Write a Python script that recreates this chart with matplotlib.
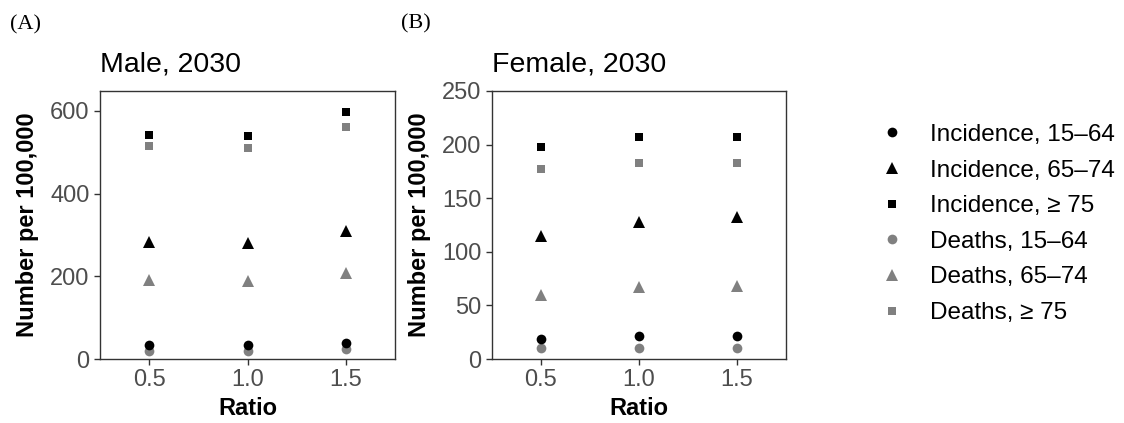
import matplotlib.pyplot as plt
from matplotlib.lines import Line2D

plt.rcParams['font.family'] = ['Liberation Sans', 'DejaVu Sans']

# ratio values on the x axis
ratio = [0.5, 1.0, 1.5]

# Male, 2030 (number per 100,000)
male_inc_1564 = [35, 34, 39]
male_inc_6574 = [282, 281, 310]
male_inc_75 = [542, 538, 596]
male_dth_1564 = [20, 20, 24]
male_dth_6574 = [191, 189, 209]
male_dth_75 = [514, 510, 562]

# Female, 2030 (number per 100,000)
fem_inc_1564 = [19, 21, 21]
fem_inc_6574 = [115, 128, 132]
fem_inc_75 = [198, 207, 207]
fem_dth_1564 = [10, 10, 10]
fem_dth_6574 = [60, 67, 68]
fem_dth_75 = [177, 183, 183]

labels = ['Incidence, 15\u201364', 'Incidence, 65\u201374', 'Incidence, \u2265 75',
          'Deaths, 15\u201364', 'Deaths, 65\u201374', 'Deaths, \u2265 75']
colors = ['black', 'black', 'black', '#808080', '#808080', '#808080']
markers = ['o', '^', 's', 'o', '^', 's']
sizes = [7, 8.5, 6, 7, 8.5, 6]

fig = plt.figure(figsize=(11.24, 4.23), dpi=100)
ax_a = fig.add_axes([0.0890, 0.1513, 0.2625, 0.6336])
ax_b = fig.add_axes([0.4377, 0.1513, 0.2616, 0.6336])

male = [male_inc_1564, male_inc_6574, male_inc_75, male_dth_1564, male_dth_6574, male_dth_75]
female = [fem_inc_1564, fem_inc_6574, fem_inc_75, fem_dth_1564, fem_dth_6574, fem_dth_75]


def draw(ax, series, title, ymax, yticks):
    # deaths first so incidence sits on top where they overlap
    for i in [3, 4, 5, 0, 1, 2]:
        ax.plot(ratio, series[i], linestyle='none', marker=markers[i],
                color=colors[i], markersize=sizes[i], markeredgewidth=0)
    ax.set_xlim(0.25, 1.75)
    ax.set_ylim(0, ymax)
    ax.set_xticks(ratio)
    ax.set_xticklabels(['0.5', '1.0', '1.5'])
    ax.set_yticks(yticks)
    ax.tick_params(colors='#333333', labelcolor='#4D4D4D', labelsize=17, length=4, width=1)
    for s in ax.spines.values():
        s.set_color('#333333')
        s.set_linewidth(1)
    ax.set_xlabel('Ratio', fontsize=17, fontweight='bold', labelpad=4)
    ax.set_ylabel('Number per 100,000', fontsize=17, fontweight='bold', labelpad=8)
    ax.set_title(title, loc='left', fontsize=20.5, pad=14)


draw(ax_a, male, 'Male, 2030', 648, [0, 200, 400, 600])
draw(ax_b, female, 'Female, 2030', 250, [0, 50, 100, 150, 200, 250])

fig.text(10 / 1124, 1 - 25 / 423, '(A)', family='Liberation Serif', fontsize=16, va='center')
fig.text(401 / 1124, 1 - 24 / 423, '(B)', family='Liberation Serif', fontsize=16, va='center')

handles = [Line2D([], [], linestyle='none', marker=markers[i], color=colors[i],
                  markersize=sizes[i], markeredgewidth=0) for i in range(6)]
fig.legend(handles, labels, loc='center left', bbox_to_anchor=(868 / 1124, 1 - 224 / 423),
           frameon=False, fontsize=17.5, handlelength=1, handletextpad=1.05,
           labelspacing=0.56, borderpad=0)

plt.savefig('out.png', dpi=100)
